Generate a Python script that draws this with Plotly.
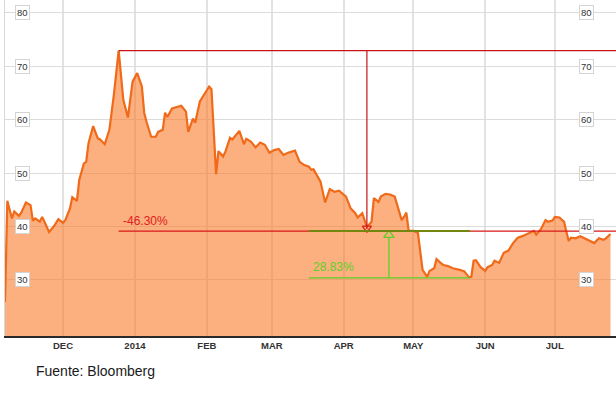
import plotly.graph_objects as go

# ---- data ----
dates = [
    "2013-11-06", "2013-11-07", "2013-11-09", "2013-11-10", "2013-11-12", "2013-11-13",
    "2013-11-15", "2013-11-17", "2013-11-18", "2013-11-19", "2013-11-21", "2013-11-22",
    "2013-11-23", "2013-11-25", "2013-11-27", "2013-11-29", "2013-12-01", "2013-12-02",
    "2013-12-04", "2013-12-05", "2013-12-07", "2013-12-08", "2013-12-10", "2013-12-11",
    "2013-12-12", "2013-12-14", "2013-12-16", "2013-12-17", "2013-12-19", "2013-12-21",
    "2013-12-22", "2013-12-23", "2013-12-25", "2013-12-27", "2013-12-29", "2013-12-30",
    "2013-12-31", "2014-01-02", "2014-01-04", "2014-01-05", "2014-01-06", "2014-01-08",
    "2014-01-10", "2014-01-11", "2014-01-13", "2014-01-14", "2014-01-15", "2014-01-17",
    "2014-01-19", "2014-01-21", "2014-01-23", "2014-01-24", "2014-01-26", "2014-01-27",
    "2014-01-29", "2014-01-31", "2014-02-02", "2014-02-03", "2014-02-05", "2014-02-06",
    "2014-02-08", "2014-02-09", "2014-02-11", "2014-02-12", "2014-02-15", "2014-02-17",
    "2014-02-18", "2014-02-20", "2014-02-22", "2014-02-24", "2014-02-26", "2014-02-28",
    "2014-03-02", "2014-03-04", "2014-03-06", "2014-03-08", "2014-03-11", "2014-03-13",
    "2014-03-15", "2014-03-17", "2014-03-18", "2014-03-19", "2014-03-22", "2014-03-24",
    "2014-03-26", "2014-03-28", "2014-03-30", "2014-04-02", "2014-04-04", "2014-04-06",
    "2014-04-07", "2014-04-09", "2014-04-11", "2014-04-13", "2014-04-14", "2014-04-16",
    "2014-04-17", "2014-04-19", "2014-04-21", "2014-04-23", "2014-04-24", "2014-04-26",
    "2014-04-27", "2014-04-28", "2014-04-29", "2014-05-01", "2014-05-03", "2014-05-04",
    "2014-05-05", "2014-05-07", "2014-05-08", "2014-05-10", "2014-05-11", "2014-05-13",
    "2014-05-14", "2014-05-16", "2014-05-18", "2014-05-21", "2014-05-23", "2014-05-25",
    "2014-05-26", "2014-05-27", "2014-05-28", "2014-05-30", "2014-06-01", "2014-06-02",
    "2014-06-04", "2014-06-05", "2014-06-07", "2014-06-09", "2014-06-11", "2014-06-13",
    "2014-06-15", "2014-06-17", "2014-06-20", "2014-06-22", "2014-06-23", "2014-06-25",
    "2014-06-27", "2014-06-28", "2014-06-30", "2014-07-01", "2014-07-03", "2014-07-05",
    "2014-07-06", "2014-07-07", "2014-07-08", "2014-07-10", "2014-07-12", "2014-07-14",
    "2014-07-16", "2014-07-18", "2014-07-20", "2014-07-22", "2014-07-23", "2014-07-25",
]
prices = [
    25.9, 44.8, 41.5, 42.8, 42.0, 42.6,
    44.5, 44.0, 41.1, 41.5, 40.9, 41.8,
    40.9, 39.0, 40.0, 41.4, 40.7, 41.2,
    43.4, 45.5, 44.8, 48.7, 51.8, 52.1,
    55.6, 58.8, 56.5, 56.3, 55.4, 58.1,
    61.5, 64.9, 72.9, 63.7, 60.4, 63.7,
    67.1, 68.7, 66.2, 61.3, 59.6, 56.8,
    56.8, 57.7, 58.1, 61.3, 60.5, 62.1,
    62.3, 62.6, 61.5, 57.7, 60.2, 59.4,
    63.4, 64.9, 66.2, 65.7, 49.8, 54.1,
    53.1, 54.0, 56.6, 56.3, 57.9, 55.4,
    56.4, 55.9, 54.8, 55.7, 55.3, 53.8,
    54.3, 54.5, 53.4, 53.8, 54.2, 52.1,
    51.5, 51.2, 50.6, 50.7, 48.4, 44.5,
    47.0, 46.5, 46.7, 45.6, 43.4, 42.5,
    41.7, 42.5, 39.9, 40.9, 45.3, 44.6,
    45.6, 46.1, 46.0, 45.6, 44.2, 41.2,
    41.8, 42.6, 39.2, 39.2, 38.8, 35.0,
    31.9, 30.6, 31.7, 32.2, 33.9, 33.1,
    32.8, 32.6, 32.2, 31.9, 31.6, 30.5,
    30.6, 33.6, 33.7, 32.4, 31.7, 32.4,
    32.8, 33.6, 33.2, 35.1, 35.5, 36.9,
    37.9, 38.2, 38.8, 39.2, 38.5, 39.5,
    41.2, 40.9, 41.1, 41.8, 41.7, 40.9,
    39.0, 37.3, 37.9, 37.8, 38.2, 37.8,
    37.3, 36.9, 37.8, 37.5, 37.8, 38.6,
]

month_ticks = ["2013-12-01", "2014-01-01", "2014-02-01", "2014-03-01",
               "2014-04-01", "2014-05-01", "2014-06-01", "2014-07-01"]
month_labels = ["DEC", "2014", "FEB", "MAR", "APR", "MAY", "JUN", "JUL"]
y_ticks = [30, 40, 50, 60, 70, 80]

drop_pct = -46.30
rise_pct = 28.83
drop_arrow_date = "2014-04-11"
rise_arrow_date = "2014-04-20 12:00"
rise_start_date = "2014-03-17"
rise_end_date = "2014-05-25 10:00"
source_text = "Fuente: Bloomberg"

x_range = ["2013-11-06", "2014-07-27 09:00"]
y_range = [19.52, 82.38]

# ---- derived levels ----
peak_val = max(prices)
peak_date = dates[prices.index(peak_val)]
low_level = peak_val * (1 + drop_pct / 100)
rise_base = low_level / (1 + rise_pct / 100)

RED = "#c81414"
GREEN = "#5ccf2a"
OLIVE = "#74860f"

fig = go.Figure()
fig.add_trace(go.Scatter(
    x=dates, y=prices, mode="lines",
    line=dict(color="#f06a1a", width=2.2),
    fill="tozeroy", fillcolor="rgba(250,122,42,0.6)",
    hoverinfo="skip", showlegend=False,
))

# arrow heads (open triangles)
fig.add_trace(go.Scatter(
    x=[drop_arrow_date], y=[low_level + 0.55], mode="markers",
    marker=dict(symbol="triangle-down-open", size=8, color="#e02020",
                line=dict(width=1.3, color="#e02020")),
    hoverinfo="skip", showlegend=False,
))
fig.add_trace(go.Scatter(
    x=[rise_arrow_date], y=[low_level - 0.75], mode="markers",
    marker=dict(symbol="triangle-up-open", size=9, color=GREEN,
                line=dict(width=1.3, color=GREEN)),
    hoverinfo="skip", showlegend=False,
))

shapes = [
    dict(type="line", xref="x", yref="y", x0=peak_date, x1=x_range[1],
         y0=peak_val, y1=peak_val, line=dict(color=RED, width=1.2)),
    dict(type="line", xref="x", yref="y", x0=peak_date, x1=x_range[1],
         y0=low_level, y1=low_level, line=dict(color="#d81818", width=1.2)),
    dict(type="line", xref="x", yref="y", x0=drop_arrow_date, x1=drop_arrow_date,
         y0=peak_val, y1=low_level + 0.4, line=dict(color=RED, width=1.2)),
    dict(type="line", xref="x", yref="y", x0=rise_start_date, x1=rise_end_date,
         y0=low_level, y1=low_level, line=dict(color=OLIVE, width=2)),
    dict(type="line", xref="x", yref="y", x0=rise_start_date, x1=rise_end_date,
         y0=rise_base, y1=rise_base, line=dict(color=GREEN, width=1.3)),
    dict(type="line", xref="x", yref="y", x0=rise_arrow_date, x1=rise_arrow_date,
         y0=rise_base, y1=low_level - 1.1, line=dict(color=GREEN, width=1.3)),
]

annotations = [
    dict(x="2013-12-26", y=low_level, xref="x", yref="y", xanchor="left",
         yanchor="bottom", yshift=1, text=f"{drop_pct:.2f}%", showarrow=False,
         font=dict(family="Liberation Sans, Arial", size=12, color="#e02020")),
    dict(x="2014-03-17 22:00", y=rise_base, xref="x", yref="y", xanchor="left",
         yanchor="bottom", yshift=2, text=f"{rise_pct:.2f}%", showarrow=False,
         font=dict(family="Liberation Sans, Arial", size=12, color=GREEN)),
    dict(x=(34 - 5) / 611, y=-0.104, xref="paper", yref="paper", xanchor="left",
         yanchor="middle", text=source_text, showarrow=False,
         font=dict(family="Liberation Sans, Arial", size=14, color="#1a1a1a")),
]
for v in y_ticks:
    for px in (0.0286, 0.9525):
        annotations.append(dict(
            x=px, y=v, xref="paper", yref="y", xanchor="center", yanchor="middle",
            text=str(v), showarrow=False,
            font=dict(family="Liberation Sans, Arial", size=9.5, color="#333333"),
            bgcolor="white", bordercolor="#d4d4d4", borderwidth=1, borderpad=1,
        ))

fig.update_layout(
    width=616, height=398,
    margin=dict(l=5, r=0, t=0, b=62),
    paper_bgcolor="white", plot_bgcolor="white",
    shapes=shapes, annotations=annotations,
    xaxis=dict(
        type="date", range=x_range,
        tickmode="array", tickvals=month_ticks, ticktext=month_labels,
        tickfont=dict(family="Liberation Sans, Arial", size=9.5, color="#333333",
                      weight="bold"),
        showgrid=True, gridcolor="#e2e2e2", gridwidth=2,
        showline=True, linecolor="#2a2a2a", linewidth=2,
        ticks="", zeroline=False,
    ),
    yaxis=dict(
        range=y_range, tickmode="array", tickvals=y_ticks,
        showticklabels=False, showgrid=True, gridcolor="#dcdcdc", gridwidth=1.3,
        showline=True, linecolor="#d8d8d8", linewidth=1, zeroline=False,
    ),
)

fig.write_html(
    "out.html",
    config={"displayModeBar": False},
    post_script="document.body.style.margin='0';document.body.style.overflow='hidden';",
)
